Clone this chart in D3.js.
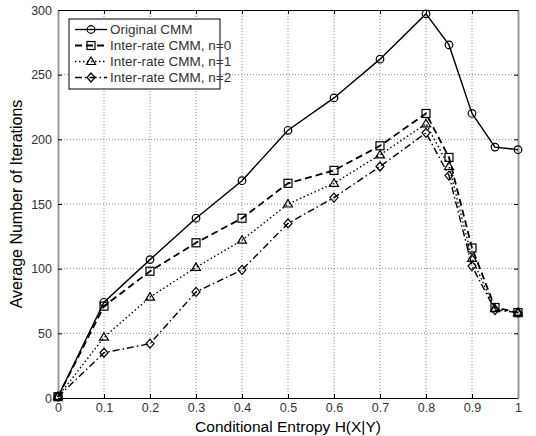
<!DOCTYPE html>
<html>
<head>
<meta charset="utf-8">
<script src="https://cdn.jsdelivr.net/npm/d3@7"></script>
<style>
  body { margin: 0; background: #fff; }
  svg text { font-family: "Liberation Sans", Arial, sans-serif; }
</style>
</head>
<body>
<div id="chart"></div>
<script>
var xValues = [0, 0.1, 0.2, 0.3, 0.4, 0.5, 0.6, 0.7, 0.8, 0.85, 0.9, 0.95, 1.0];
var originalCMM = [1, 74, 107, 139, 168, 207, 232, 262, 297, 273, 220, 194, 192];
var interRate0 = [1, 71, 98, 120, 139, 166, 176, 195, 220, 186, 116, 70, 66];
var interRate1 = [1, 47, 78, 101, 122, 150, 166, 188, 212, 179, 108, 69, 66];
var interRate2 = [1, 35, 42, 82, 99, 135, 155, 179, 205, 172, 102, 68, 66];
var seriesNames = ["Original CMM", "Inter-rate CMM, n=0", "Inter-rate CMM, n=1", "Inter-rate CMM, n=2"];
var xTicks = [0, 0.1, 0.2, 0.3, 0.4, 0.5, 0.6, 0.7, 0.8, 0.9, 1];
var yTicks = [0, 50, 100, 150, 200, 250, 300];

(function() {
    var width = 536,
        height = 436,
        margin = {left: 58, right: 18, top: 10, bottom: 38};

    var svg = d3.select("#chart")
        .append("svg")
        .attr("width", width)
        .attr("height", height);

    var x = d3.scaleLinear().domain([0, 1]).range([margin.left, width - margin.right]);
    var y = d3.scaleLinear().domain([0, 300]).range([height - margin.bottom, margin.top]);

    var styles = [
        {dash: null, marker: "circle"},
        {dash: "7,4", marker: "square"},
        {dash: "1.5,2.5", marker: "triangle"},
        {dash: "7,3,1.5,3", marker: "diamond"}
    ];
    var series = [originalCMM, interRate0, interRate1, interRate2];

    // grid
    svg.append("g").selectAll("line").data(xTicks.slice(1, -1)).enter().append("line")
        .attr("x1", function(d) { return x(d); }).attr("x2", function(d) { return x(d); })
        .attr("y1", y(0)).attr("y2", y(300))
        .attr("stroke", "#888").attr("stroke-dasharray", "1,2");
    svg.append("g").selectAll("line").data(yTicks.slice(1, -1)).enter().append("line")
        .attr("y1", function(d) { return y(d); }).attr("y2", function(d) { return y(d); })
        .attr("x1", x(0)).attr("x2", x(1))
        .attr("stroke", "#888").attr("stroke-dasharray", "1,2");

    // axes
    var xAxis = svg.append("g")
        .attr("transform", "translate(0," + y(0) + ")")
        .call(d3.axisBottom(x).tickValues(xTicks).tickSizeInner(-4).tickSizeOuter(0).tickPadding(5)
            .tickFormat(function(d) { return d === 0 || d === 1 ? d : d3.format(".1f")(d); }));
    var xTop = svg.append("g")
        .attr("transform", "translate(0," + y(300) + ")")
        .call(d3.axisTop(x).tickValues(xTicks).tickSizeInner(-4).tickSizeOuter(0).tickFormat(""));
    var yAxis = svg.append("g")
        .attr("transform", "translate(" + x(0) + ",0)")
        .call(d3.axisLeft(y).tickValues(yTicks).tickSizeInner(-4).tickSizeOuter(0).tickPadding(6));
    var yRight = svg.append("g")
        .attr("transform", "translate(" + x(1) + ",0)")
        .call(d3.axisRight(y).tickValues(yTicks).tickSizeInner(-4).tickSizeOuter(0).tickFormat(""));

    [xAxis, xTop, yAxis, yRight].forEach(function(g) {
        g.selectAll("text").attr("font-size", 12.5).attr("fill", "#333")
            .style("font-family", "'Liberation Sans', Arial, sans-serif");
        g.selectAll(".tick line").attr("stroke", "#000");
    });
    xAxis.select(".domain").attr("stroke", "#000");
    xTop.select(".domain").attr("stroke", "#000");
    yAxis.select(".domain").attr("stroke", "#999").attr("stroke-width", 2);
    yRight.select(".domain").attr("stroke", "#999").attr("stroke-width", 2);

    function drawMarker(g, type, cx, cy) {
        if (type === "circle") {
            g.append("circle").attr("cx", cx).attr("cy", cy).attr("r", 3.8);
        } else if (type === "square") {
            g.append("rect").attr("x", cx - 4).attr("y", cy - 4).attr("width", 8).attr("height", 8);
        } else if (type === "triangle") {
            g.append("path").attr("d", "M" + cx + "," + (cy - 4.5) + "L" + (cx + 4.5) + "," + (cy + 3) + "L" + (cx - 4.5) + "," + (cy + 3) + "Z");
        } else {
            g.append("path").attr("d", "M" + cx + "," + (cy - 4.5) + "L" + (cx + 4) + "," + cy + "L" + cx + "," + (cy + 4.5) + "L" + (cx - 4) + "," + cy + "Z");
        }
    }

    var line = d3.line()
        .x(function(d, i) { return x(xValues[i]); })
        .y(function(d) { return y(d); });

    series.forEach(function(s, k) {
        svg.append("path").datum(s)
            .attr("d", line)
            .attr("fill", "none")
            .attr("stroke", "#000")
            .attr("stroke-width", k === 1 ? 1.8 : 1.4)
            .attr("stroke-dasharray", styles[k].dash);
        var mg = svg.append("g").attr("fill", "none").attr("stroke", "#000").attr("stroke-width", 1.2);
        s.forEach(function(d, i) { drawMarker(mg, styles[k].marker, x(xValues[i]), y(d)); });
    });

    // legend
    var legend = svg.append("g").attr("transform", "translate(69,19)");
    legend.append("rect").attr("width", 151).attr("height", 70)
        .attr("fill", "#fff").attr("stroke", "#000").attr("stroke-width", 1);
    seriesNames.forEach(function(name, k) {
        var ly = 10.5 + k * 16;
        legend.append("line").attr("x1", 6).attr("x2", 38).attr("y1", ly).attr("y2", ly)
            .attr("stroke", "#000").attr("stroke-width", k === 1 ? 1.8 : 1.4)
            .attr("stroke-dasharray", styles[k].dash);
        var mg = legend.append("g").attr("fill", "none").attr("stroke", "#000").attr("stroke-width", 1.2);
        drawMarker(mg, styles[k].marker, 22, ly);
        legend.append("text").attr("x", 41).attr("y", ly + 4.5)
            .attr("font-size", 13.5).attr("fill", "#333").text(name);
    });

    // axis titles
    svg.append("text")
        .attr("x", (x(0) + x(1)) / 2).attr("y", 432)
        .attr("text-anchor", "middle").attr("font-size", 15.5)
        .text("Conditional Entropy H(X|Y)");
    svg.append("text")
        .attr("transform", "translate(22," + ((y(0) + y(300)) / 2) + ") rotate(-90)")
        .attr("text-anchor", "middle").attr("font-size", 16)
        .text("Average Number of Iterations");
})();
</script>
</body>
</html>
